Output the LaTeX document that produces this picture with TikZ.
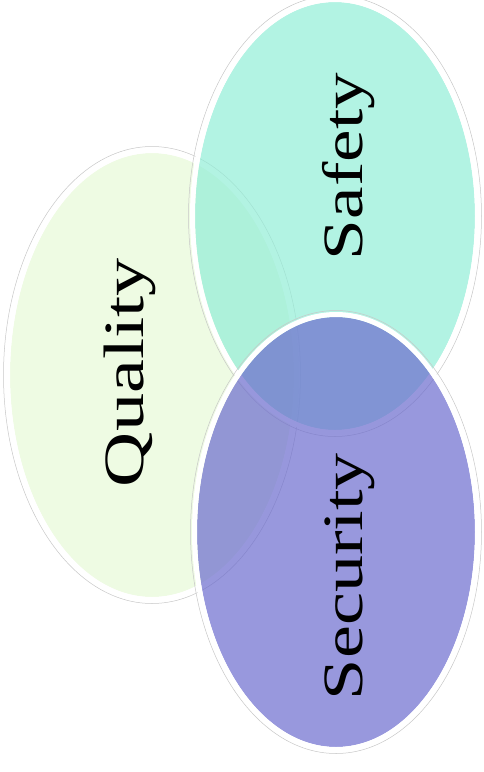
\documentclass[tikz,border=0pt]{standalone}
\usepackage{fontspec}
\setmainfont{Liberation Serif}
\begin{document}
\begin{tikzpicture}[x=1pt,y=1pt]
\definecolor{qual}{RGB}{238,251,227}
\definecolor{safe}{RGB}{146,238,215}
\definecolor{secu}{RGB}{108,108,206}
\tikzset{
  shadowline/.style={draw=black!22, line width=0.5pt},
  rim/.style={draw=white, line width=5pt},
  lbl/.style={rotate=90, anchor=base, font=\fontsize{57}{57}\selectfont, text=black, inner sep=0pt}
}
\useasboundingbox (0,0) rectangle (483,-772);
% Quality
\coordinate (qc) at (152,-375);
\draw[shadowline] (qc) ellipse [x radius=148.5, y radius=228.5];
\fill[qual] (qc) ellipse [x radius=142, y radius=222];
\draw[rim] (qc) ellipse [x radius=144.5, y radius=224.5];
% Safety
\coordinate (sc) at (335,-216);
\draw[shadowline] (sc) ellipse [x radius=146.5, y radius=220.5];
\fill[safe, fill opacity=0.7] (sc) ellipse [x radius=140, y radius=214];
\draw[rim] (sc) ellipse [x radius=142.5, y radius=216.5];
% Security
\coordinate (uc) at (336,-532);
\draw[shadowline] (uc) ellipse [x radius=145.5, y radius=221.5];
\fill[secu, fill opacity=0.7] (uc) ellipse [x radius=139, y radius=215];
\draw[rim] (uc) ellipse [x radius=141.5, y radius=217.5];
% labels
\node[lbl] (tq) at (143,-372.5) {\resizebox{229pt}{\height}{Quality}};
\node[lbl] (ts) at (362,-166.5) {\resizebox{187pt}{\height}{Safety}};
\node[lbl] (tu) at (362,-576.5) {\resizebox{247pt}{\height}{Security}};
\end{tikzpicture}
\end{document}
